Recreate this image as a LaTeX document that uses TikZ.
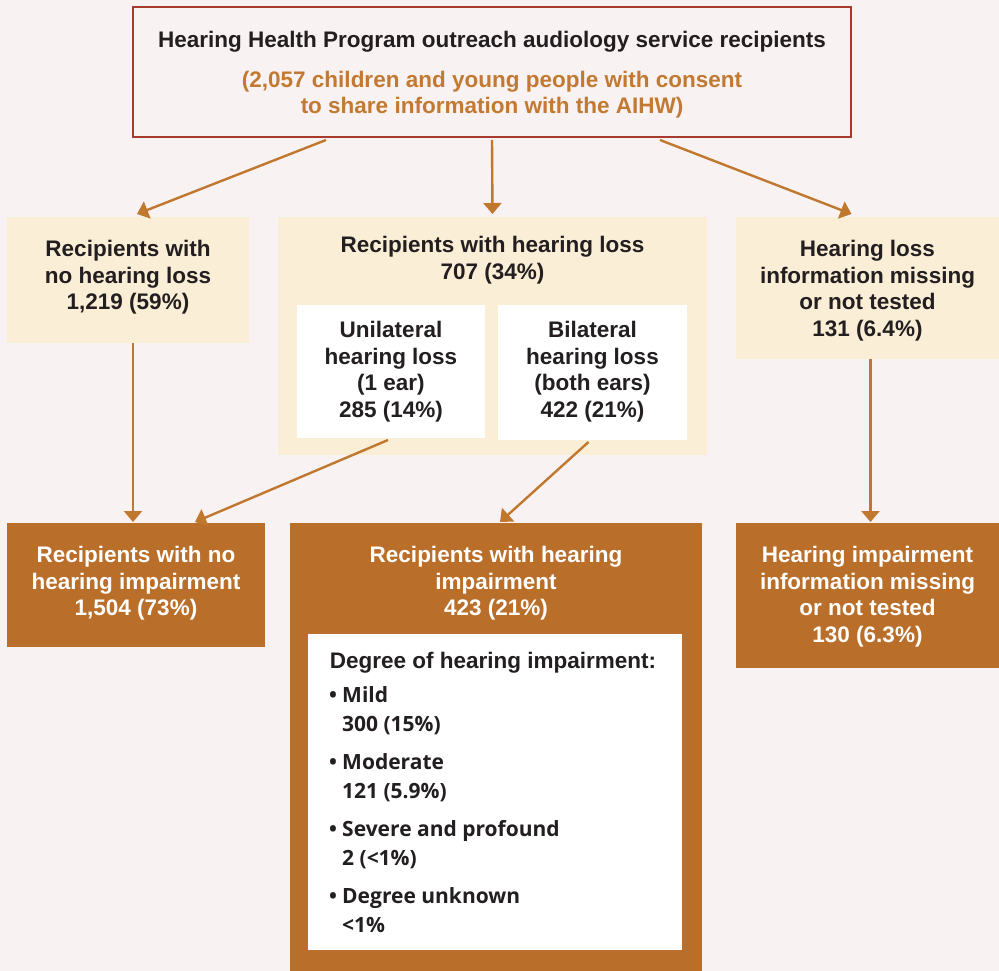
\documentclass[tikz,border=0pt]{standalone}
\usepackage{fontspec}
\setmainfont{Liberation Sans}
\newfontfamily\listfont{Open Sans}
\usetikzlibrary{arrows.meta}
\definecolor{bg}{HTML}{F8F2F2}
\definecolor{beige}{HTML}{FBEED7}
\definecolor{rust}{HTML}{B96E2A}
\definecolor{arrowc}{HTML}{C0772E}
\definecolor{topred}{HTML}{A63A2C}
\definecolor{ink}{HTML}{231F20}
\definecolor{orangetxt}{HTML}{C27A33}
\tikzstyle{box}=[anchor=north west, inner sep=0, outer sep=0]
\tikzstyle{light}=[box, fill=beige]
\tikzstyle{dark}=[box, fill=rust]
\tikzstyle{plain}=[box, fill=white]
\tikzstyle{txt}=[anchor=north, inner sep=0, align=center, text=ink, font=\bfseries\fontsize{22.5}{26.5}\selectfont]
\tikzstyle{wtxt}=[txt, text=white]
\tikzstyle{arr}=[draw=arrowc, line width=2.4pt, -{Triangle[width=18pt,length=11pt]}]

\begin{document}
\begin{tikzpicture}[x=1pt, y=-1pt]
\fill[bg] (0,0) rectangle (999,971);
% Boxes
    \node[box, draw=topred, line width=2pt, minimum width=718, minimum height=130] (top) at (133,7) {};
    \node[light, minimum width=242, minimum height=126] (nohl) at (7,217) {};
    \node[light, minimum width=429, minimum height=238] (hl) at (278,217) {};
    \node[plain, minimum width=188, minimum height=133] (uni) at (297,305) {};
    \node[plain, minimum width=189, minimum height=135] (bil) at (498,305) {};
    \node[light, minimum width=263, minimum height=142] (miss) at (736,217) {};
    \node[dark, minimum width=258, minimum height=124] (noimp) at (7,523) {};
    \node[dark, minimum width=412, minimum height=448] (imp) at (290,523) {};
    \node[plain, minimum width=374, minimum height=316] (deg) at (308,634) {};
    \node[dark, minimum width=263, minimum height=145] (imiss) at (736,523) {};
% Labels
    \node[txt] (top-t) at ([yshift=-24]top.north) {Hearing Health Program outreach audiology service recipients\\[13pt]
        \textcolor{orangetxt}{(2,057 children and young people with consent}\\
        \textcolor{orangetxt}{to share information with the AIHW)}};
    \node[txt] (nohl-t) at ([yshift=-23]nohl.north) {Recipients with\\no hearing loss\\1,219 (59\%)};
    \node[txt] (hl-t) at ([yshift=-19]hl.north) {Recipients with hearing loss\\707 (34\%)};
    \node[txt] (uni-t) at ([yshift=-16]uni.north) {Unilateral\\hearing loss\\(1 ear)\\285 (14\%)};
    \node[txt] (bil-t) at ([yshift=-16]bil.north) {Bilateral\\hearing loss\\(both ears)\\422 (21\%)};
    \node[txt] (miss-t) at ([yshift=-23]miss.north) {Hearing loss\\information missing\\or not tested\\131 (6.4\%)};
    \node[wtxt] (noimp-t) at ([yshift=-23]noimp.north) {Recipients with no\\hearing impairment\\1,504 (73\%)};
    \node[wtxt] (imp-t) at ([yshift=-23]imp.north) {Recipients with hearing\\impairment\\423 (21\%)};
    \node[wtxt] (imiss-t) at ([yshift=-23]imiss.north) {Hearing impairment\\information missing\\or not tested\\130 (6.3\%)};
    \node[txt] (deg-t) at ([xshift=-2,yshift=-18]deg.north) {Degree of hearing impairment:};
    \node[anchor=north west, inner sep=0, align=left, text=ink, font=\listfont\bfseries\fontsize{21}{29.5}\selectfont] (deg-l) at ([xshift=21,yshift=-52]deg.north west)
        {\makebox[13pt][l]{\textbullet}Mild\\\hspace*{13pt}300 (15\%)\\[8pt]
         \makebox[13pt][l]{\textbullet}Moderate\\\hspace*{13pt}121 (5.9\%)\\[8pt]
         \makebox[13pt][l]{\textbullet}Severe and profound\\\hspace*{13pt}2 (<1\%)\\[8pt]
         \makebox[13pt][l]{\textbullet}Degree unknown\\\hspace*{13pt}<1\%};
% Arrows
    \draw[arr] ([xshift=-166,yshift=-3]top.south) -- ([xshift=9,yshift=3]nohl.north);
    \draw[arr] ([yshift=-3]top.south) -- ([yshift=3]hl.north);
    \draw[arr] ([xshift=168,yshift=-3]top.south) -- ([xshift=-16,yshift=3]miss.north);
    \draw[arr] ([xshift=5]nohl.south) -- ([xshift=-3,yshift=1]noimp.north);
    \draw[arr] ([xshift=-3,yshift=-2]uni.south) -- ([xshift=59,yshift=1]noimp.north);
    \draw[arr] ([xshift=-4,yshift=-2]bil.south) -- ([xshift=4,yshift=1]imp.north);
    \draw[arr] ([xshift=3]miss.south) -- ([xshift=3,yshift=1]imiss.north);
\end{tikzpicture}
\end{document}
